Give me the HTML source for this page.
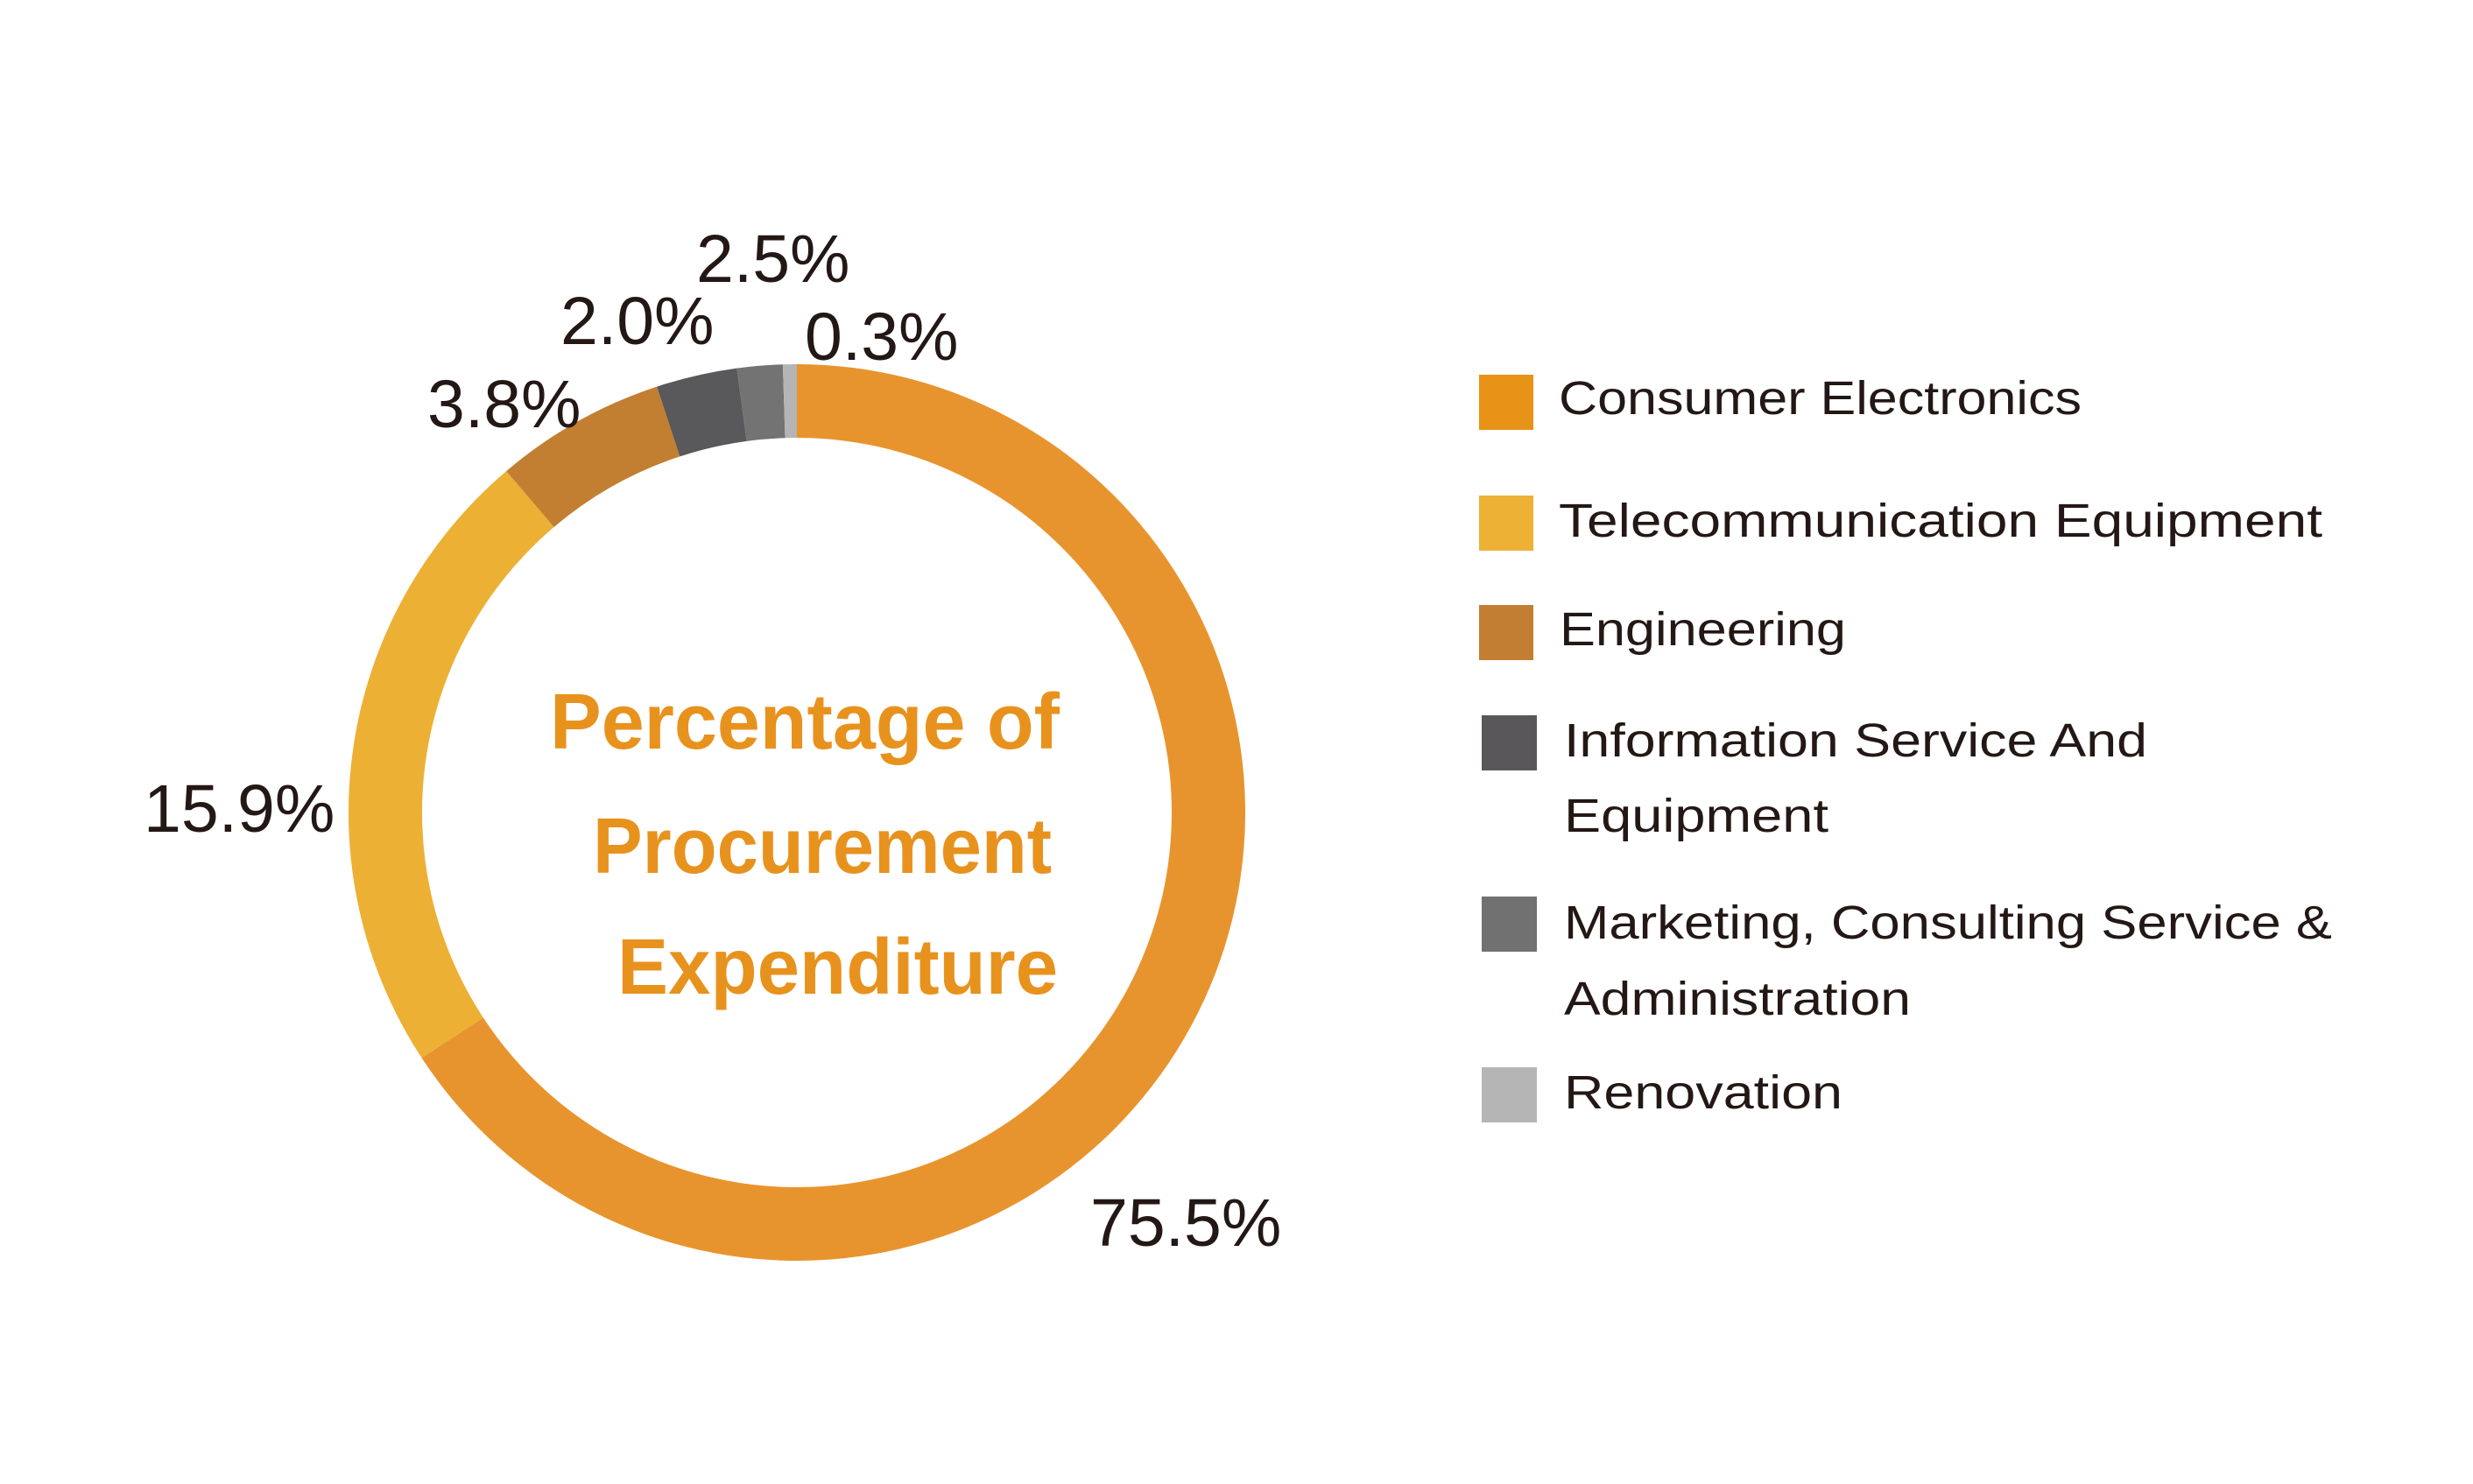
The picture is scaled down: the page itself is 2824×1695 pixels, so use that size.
<!DOCTYPE html>
<html><head><meta charset="utf-8"><style>
html,body{margin:0;padding:0;background:#fff;}
svg{display:block}
</style></head><body>
<svg width="2824" height="1695" viewBox="0 0 2824 1695" xmlns="http://www.w3.org/2000/svg">
<g id="donut"></g>
<g font-family="Liberation Sans, Arial, sans-serif" font-size="77" fill="#231815">
<text x="795" y="322">2.5%</text>
<text x="640" y="393">2.0%</text>
<text x="919" y="411">0.3%</text>
<text x="488" y="488">3.8%</text>
<text x="164" y="950">15.9%</text>
<text x="1245" y="1423">75.5%</text>
</g>
<g font-family="Liberation Sans, Arial, sans-serif" font-weight="bold" font-size="90" fill="#E8921E" text-anchor="end">
<text x="1210" y="855" textLength="582" lengthAdjust="spacingAndGlyphs">Percentage of</text>
<text x="1201" y="997" textLength="524" lengthAdjust="spacingAndGlyphs">Procurement</text>
<text x="1208" y="1135" textLength="503" lengthAdjust="spacingAndGlyphs">Expenditure</text>
</g>
<rect x="1689" y="428" width="62" height="63" fill="#E89217"/>
<rect x="1689" y="566" width="62" height="63" fill="#EDB136"/>
<rect x="1689" y="691" width="62" height="63" fill="#C27F33"/>
<rect x="1692" y="817" width="63" height="63" fill="#59575A"/>
<rect x="1692" y="1024" width="63" height="63" fill="#727171"/>
<rect x="1692" y="1219" width="63" height="63" fill="#B5B5B6"/>
<g font-family="Liberation Sans, Arial, sans-serif" font-size="54" fill="#231815">
<text x="1780" y="473" textLength="597" lengthAdjust="spacingAndGlyphs">Consumer Electronics</text>
<text x="1780" y="613" textLength="872" lengthAdjust="spacingAndGlyphs">Telecommunication Equipment</text>
<text x="1781" y="737" textLength="327" lengthAdjust="spacingAndGlyphs">Engineering</text>
<text x="1786" y="864" textLength="666" lengthAdjust="spacingAndGlyphs">Information Service And</text>
<text x="1786" y="950" textLength="302" lengthAdjust="spacingAndGlyphs">Equipment</text>
<text x="1786" y="1072" textLength="877" lengthAdjust="spacingAndGlyphs">Marketing, Consulting Service &amp;</text>
<text x="1786" y="1159" textLength="396" lengthAdjust="spacingAndGlyphs">Administration</text>
<text x="1786" y="1266" textLength="318" lengthAdjust="spacingAndGlyphs">Renovation</text>
</g>
</svg>
<script>
(function(){
var cx=910,cy=928,R=512,r=428;
var segs=[[0,236.8,"#E8942E"],[236.8,319.6,"#ECB034"],[319.6,341.8,"#C27F32"],[341.8,352.3,"#59585A"],[352.3,358.2,"#737373"],[358.2,360,"#B5B5B6"]];
function pt(a,rad){var t=a*Math.PI/180;return [cx+rad*Math.sin(t),cy-rad*Math.cos(t)];}
var g=document.getElementById("donut"),h="";
segs.forEach(function(s){
var a=s[0],b=s[1],large=(b-a)>180?1:0;
var p1=pt(a,R),p2=pt(b,R),p3=pt(b,r),p4=pt(a,r);
h+='<path fill="'+s[2]+'" d="M'+p1+' A'+R+' '+R+' 0 '+large+' 1 '+p2+' L'+p3+' A'+r+' '+r+' 0 '+large+' 0 '+p4+' Z"/>';
});
g.innerHTML=h;
})();
</script>
</body></html>
